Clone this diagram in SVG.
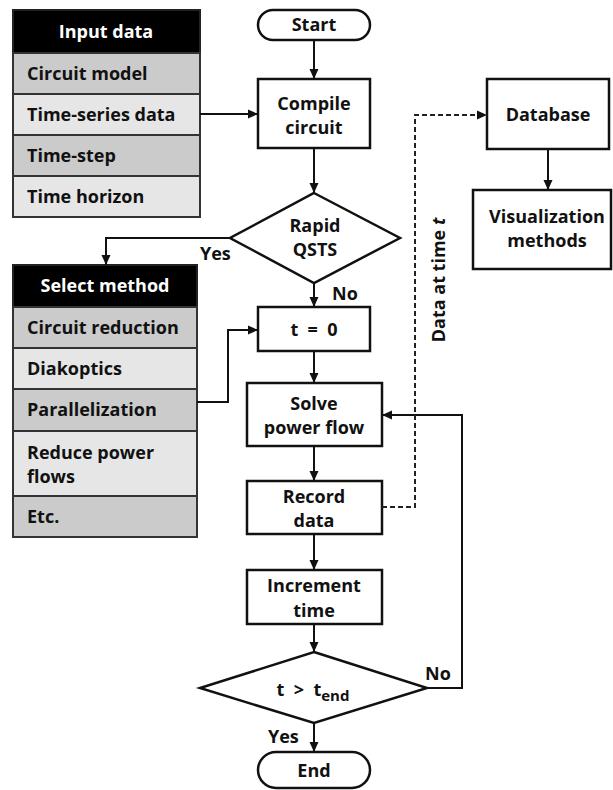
<svg xmlns="http://www.w3.org/2000/svg" width="613" height="790" viewBox="0 0 613 790">
<style>
text{font-family:"Open Sans","Liberation Sans",sans-serif;font-weight:700;font-size:18px;fill:#111}
.c{text-anchor:middle}
.w{fill:#fff}
.box{fill:#fff;stroke:#111;stroke-width:2.5}
.hdr{fill:#000;stroke:#222;stroke-width:2}
.dk{fill:#cbcbcb;stroke:#333;stroke-width:2}
.lt{fill:#e6e6e6;stroke:#333;stroke-width:2}
.ln{fill:none;stroke:#111;stroke-width:2}
.dash{fill:none;stroke:#222;stroke-width:2;stroke-dasharray:5,3}
</style>
<defs>
<marker id="ah" markerUnits="userSpaceOnUse" markerWidth="10" markerHeight="10" refX="10" refY="5" orient="auto">
<path d="M0,0.5 L10,5 L0,9.5 z" fill="#111"/>
</marker>
</defs>

<g id="input-data">
<rect class="hdr" x="13" y="10" width="187" height="43"/>
<text class="c w" x="106" y="38">Input data</text>
<rect class="dk" x="13" y="53" width="187" height="41"/>
<text x="27" y="80">Circuit model</text>
<rect class="lt" x="13" y="94" width="187" height="41"/>
<text x="27" y="121">Time-series data</text>
<rect class="dk" x="13" y="135" width="187" height="41"/>
<text x="27" y="162">Time-step</text>
<rect class="lt" x="13" y="176" width="187" height="41"/>
<text x="27" y="203">Time horizon</text>
</g>

<g id="select-method">
<rect class="hdr" x="13" y="265" width="184" height="42"/>
<text class="c w" x="105" y="292">Select method</text>
<rect class="dk" x="13" y="307" width="184" height="41"/>
<text x="27" y="334">Circuit reduction</text>
<rect class="lt" x="13" y="348" width="184" height="41"/>
<text x="27" y="375">Diakoptics</text>
<rect class="dk" x="13" y="389" width="184" height="42"/>
<text x="27" y="416">Parallelization</text>
<rect class="lt" x="13" y="431" width="184" height="65"/>
<text x="27" y="459">Reduce power</text>
<text x="27" y="483">flows</text>
<rect class="dk" x="13" y="496" width="184" height="41"/>
<text x="27" y="523">Etc.</text>
</g>

<g id="start">
<rect class="box" x="258" y="10" width="112" height="30" rx="15"/>
<text class="c" x="314" y="31">Start</text>
</g>

<g id="compile">
<rect class="box" x="258" y="79" width="112" height="69"/>
<text class="c" x="314" y="110">Compile</text>
<text class="c" x="314" y="134">circuit</text>
</g>

<g id="rapid-qsts">
<path class="box" d="M314,193 L400,238 L314,283 L230,238 Z"/>
<text class="c" x="315" y="232">Rapid</text>
<text class="c" x="315" y="256">QSTS</text>
</g>

<g id="t-zero">
<rect class="box" x="258" y="307" width="112" height="44"/>
<text class="c" x="314" y="336" xml:space="preserve">t  =  0</text>
</g>

<g id="solve">
<rect class="box" x="247" y="383" width="135" height="63"/>
<text class="c" x="314" y="410">Solve</text>
<text class="c" x="314" y="434">power flow</text>
</g>

<g id="record">
<rect class="box" x="247" y="481" width="135" height="53"/>
<text class="c" x="314" y="503">Record</text>
<text class="c" x="314" y="527">data</text>
</g>

<g id="increment">
<rect class="box" x="247" y="570" width="135" height="54"/>
<text class="c" x="314" y="592">Increment</text>
<text class="c" x="314" y="617">time</text>
</g>

<g id="t-end">
<path class="box" d="M314,652 L427,688 L314,723 L200,688 Z"/>
<text class="c" x="313" y="696" xml:space="preserve">t  &gt;  t<tspan font-size="15" dy="5">end</tspan></text>
</g>

<g id="end">
<rect class="box" x="258" y="752" width="112" height="36" rx="18"/>
<text class="c" x="314" y="777">End</text>
</g>

<g id="database">
<rect class="box" x="487" y="79" width="122" height="70"/>
<text class="c" x="548" y="121">Database</text>
</g>

<g id="visualization">
<rect class="box" x="473" y="190" width="138" height="79"/>
<text class="c" x="547" y="223">Visualization</text>
<text class="c" x="547" y="247">methods</text>
</g>

<g id="connectors">
<path class="ln" d="M314,40 V79" marker-end="url(#ah)"/>
<path class="ln" d="M200,114 H258" marker-end="url(#ah)"/>
<path class="ln" d="M314,148 V193" marker-end="url(#ah)"/>
<path class="ln" d="M230,238 H106 V265" marker-end="url(#ah)"/>
<path class="ln" d="M314,283 V307" marker-end="url(#ah)"/>
<path class="ln" d="M197,402 H228 V330 H258" marker-end="url(#ah)"/>
<path class="ln" d="M314,351 V383" marker-end="url(#ah)"/>
<path class="ln" d="M314,446 V481" marker-end="url(#ah)"/>
<path class="ln" d="M314,534 V570" marker-end="url(#ah)"/>
<path class="ln" d="M314,624 V652" marker-end="url(#ah)"/>
<path class="ln" d="M314,723 V752" marker-end="url(#ah)"/>
<path class="ln" d="M427,688 H462 V415 H382" marker-end="url(#ah)"/>
<path class="dash" d="M382,507 H415 V115 H487" marker-end="url(#ah)"/>
<path class="ln" d="M548,149 V190" marker-end="url(#ah)"/>
<text x="200" y="260">Yes</text>
<text x="332" y="300">No</text>
<text x="425" y="680">No</text>
<text x="268" y="743">Yes</text>
<text class="c" transform="translate(445,280) rotate(-90)">Data at time <tspan font-style="italic">t</tspan></text>
</g>
</svg>
